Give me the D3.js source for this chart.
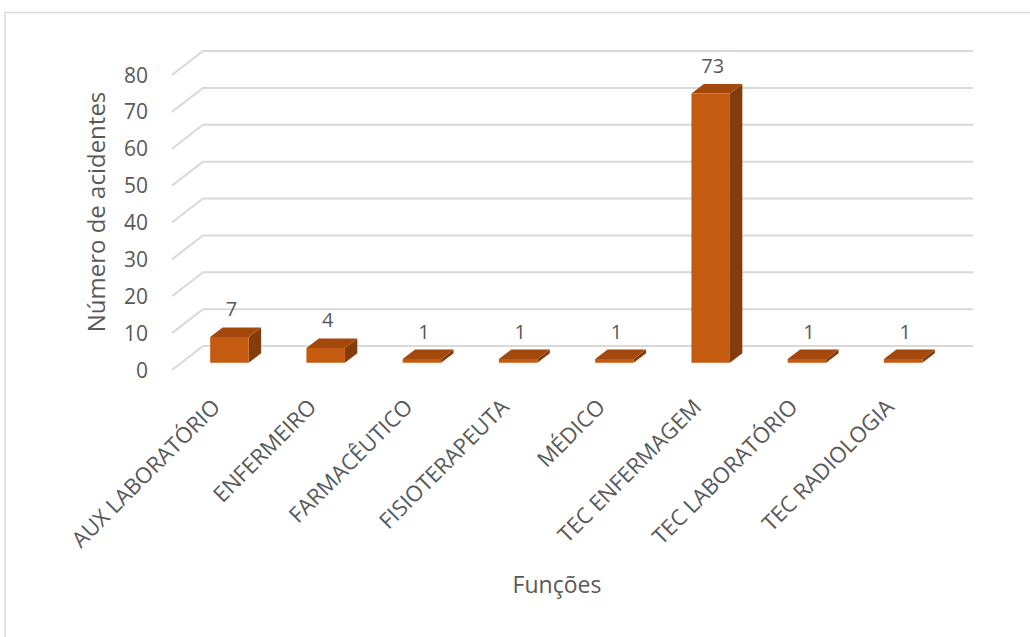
<!DOCTYPE html>
<html>
<head>
<meta charset="utf-8">
<script src="https://cdn.jsdelivr.net/npm/d3@7"></script>
<style>
  html, body { margin: 0; padding: 0; background: #fff; }
  svg text { font-family: "Open Sans", "Noto Sans", sans-serif; fill: #595959; }
</style>
</head>
<body>
<svg id="chart" width="1030" height="637"></svg>
<script>
const categories = [
  'AUX LABORATÓRIO', 'ENFERMEIRO', 'FARMACÊUTICO', 'FISIOTERAPEUTA',
  'MÉDICO', 'TEC ENFERMAGEM', 'TEC LABORATÓRIO', 'TEC RADIOLOGIA'
];
const acidentes = [7, 4, 1, 1, 1, 73, 1, 1];
const yTicks = [0, 10, 20, 30, 40, 50, 60, 70, 80];
const xTitle = 'Funções';
const yTitle = 'Número de acidentes';

const svg = d3.select('#chart');

// fake 3d: depth offset for the back wall
const depth = { dx: 31, dy: -24 };
const barZ0 = 0.3, barZ1 = 0.7;
const colors = { front: '#C55A11', top: '#A3490E', side: '#843C0C' };

const x = d3.scaleBand()
  .domain(categories)
  .range([172, 942])
  .paddingInner(0.6)
  .paddingOuter(0.3);

const y = d3.scaleLinear()
  .domain([0, 80])
  .range([370, 75]);

const proj = (px, py, z) => [px + depth.dx * z, py + depth.dy * z];

// frame
svg.append('path')
  .attr('d', 'M5,637 V12.5 H1030')
  .attr('fill', 'none')
  .attr('stroke', '#D9D9D9')
  .attr('stroke-width', 1.5);

// gridlines: side wall diagonal + back wall
const grid = svg.append('g').attr('class', 'grid');
const [x0, x1] = x.range();
yTicks.forEach(t => {
  const a = proj(x0, y(t), 0);
  const b = proj(x0, y(t), 1);
  const c = proj(x1, y(t), 1);
  grid.append('path')
    .attr('d', d3.line()([a, b, c]))
    .attr('fill', 'none')
    .attr('stroke', '#D9D9D9')
    .attr('stroke-width', 2);
});

// tick labels
svg.append('g')
  .selectAll('text')
  .data(yTicks)
  .join('text')
  .attr('x', 148)
  .attr('y', d => y(d))
  .attr('dy', '0.36em')
  .attr('text-anchor', 'end')
  .style('font-size', '21px')
  .text(d => d);

// bars
const bars = svg.append('g').attr('class', 'bars')
  .selectAll('g')
  .data(categories.map((c, i) => ({ cat: c, value: acidentes[i] })))
  .join('g');

const poly = pts => d3.line()(pts) + 'Z';

bars.each(function(d) {
  const g = d3.select(this);
  const bx0 = x(d.cat), bx1 = bx0 + x.bandwidth();
  const yb = y(0), yt = y(d.value);
  const f0 = proj(bx0, yb, barZ0), f1 = proj(bx1, yb, barZ0);
  const f2 = proj(bx1, yt, barZ0), f3 = proj(bx0, yt, barZ0);
  const k1 = proj(bx1, yb, barZ1), k2 = proj(bx1, yt, barZ1), k3 = proj(bx0, yt, barZ1);
  g.append('path').attr('d', poly([f1, k1, k2, f2])).attr('fill', colors.side);
  g.append('path').attr('d', poly([f3, f2, k2, k3])).attr('fill', colors.top);
  g.append('path').attr('d', poly([f0, f1, f2, f3])).attr('fill', colors.front);
  g.append('text')
    .attr('x', (f0[0] + f1[0]) / 2 + 2)
    .attr('y', k3[1] - 11)
    .attr('text-anchor', 'middle')
    .style('font-size', '20px')
    .text(d.value);
});

// category labels
svg.append('g')
  .selectAll('text')
  .data(categories)
  .join('text')
  .attr('transform', d => `translate(${x(d) + x.bandwidth() / 2 - 4},403) rotate(-45)`)
  .attr('text-anchor', 'end')
  .attr('dy', '0.35em')
  .style('font-size', '22px')
  .text(d => d);

// axis titles
svg.append('text')
  .attr('x', 557)
  .attr('y', 593)
  .attr('text-anchor', 'middle')
  .style('font-size', '23px')
  .text(xTitle);

svg.append('text')
  .attr('transform', 'translate(97,212) rotate(-90)')
  .attr('text-anchor', 'middle')
  .attr('dy', '0.35em')
  .style('font-size', '24px')
  .text(yTitle);
</script>
</body>
</html>
